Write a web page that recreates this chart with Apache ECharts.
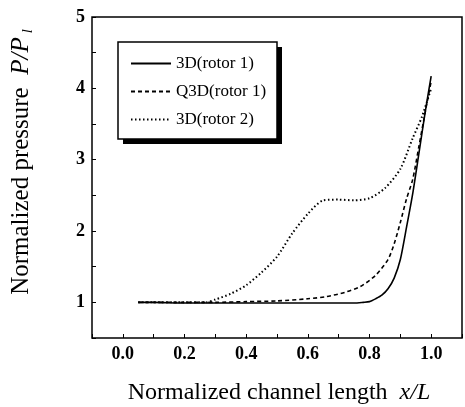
<!DOCTYPE html>
<html>
<head>
<meta charset="utf-8">
<script src="https://cdn.jsdelivr.net/npm/echarts@6/dist/echarts.min.js"></script>
<style>
  html, body { margin: 0; padding: 0; background: #fff; }
  #chart { width: 465px; height: 407px; }
</style>
</head>
<body>
<div id="chart"></div>
<script>
  // 3D (rotor 1) - solid
  var x3d1 = [0.05, 0.1, 0.2, 0.3, 0.4, 0.5, 0.6, 0.7, 0.75, 0.78, 0.8, 0.82, 0.84, 0.86, 0.88, 0.9, 0.92, 0.94, 0.96, 0.98, 1.0];
  var y3d1 = [1.0, 1.0, 0.99, 0.99, 0.99, 0.99, 0.99, 0.99, 0.99, 1.0, 1.01, 1.05, 1.1, 1.19, 1.34, 1.6, 2.05, 2.52, 3.08, 3.65, 4.17];
  // Q3D (rotor 1) - dashed
  var xq3d = [0.05, 0.1, 0.2, 0.3, 0.4, 0.5, 0.6, 0.66, 0.72, 0.77, 0.82, 0.86, 0.88, 0.9, 0.92, 0.94, 0.96, 0.98, 1.0];
  var yq3d = [1.0, 1.0, 1.0, 1.0, 1.01, 1.02, 1.05, 1.08, 1.14, 1.22, 1.38, 1.6, 1.82, 2.12, 2.45, 2.72, 3.18, 3.65, 4.1];
  // 3D (rotor 2) - dotted
  var x3d2 = [0.05, 0.1, 0.2, 0.27, 0.3, 0.35, 0.4, 0.45, 0.5, 0.55, 0.6, 0.65, 0.7, 0.75, 0.8, 0.85, 0.9, 0.94, 0.97, 1.0];
  var y3d2 = [1.0, 1.0, 1.0, 1.0, 1.04, 1.12, 1.24, 1.42, 1.64, 1.97, 2.24, 2.43, 2.44, 2.43, 2.46, 2.6, 2.87, 3.3, 3.6, 4.0];

  var names = ['3D(rotor 1)', 'Q3D(rotor 1)', '3D(rotor 2)'];

  function pairs(xs, ys) {
    var out = [];
    for (var i = 0; i < xs.length; i++) out.push([xs[i], ys[i]]);
    return out;
  }

  var serif = 'Liberation Serif, Times New Roman, serif';
  var myChart = echarts.init(document.getElementById('chart'));

  var option = {
    backgroundColor: '#fff',
    animation: false,
    grid: {
      left: 92, right: 1, top: 17, bottom: 69,
      show: true, borderColor: '#000', borderWidth: 1.5
    },
    legend: {
      orient: 'vertical',
      left: 118, top: 43,
      z: 10,
      padding: [12, 12, 12, 12],
      itemGap: 11,
      itemWidth: 40, itemHeight: 14,
      itemStyle: { opacity: 0 },
      textStyle: { fontFamily: serif, fontSize: 17, color: '#000' },
      data: names
    },
    xAxis: {
      type: 'value',
      min: -0.1, max: 1.1, interval: 0.1,
      axisLine: { show: false, onZero: false },
      axisTick: { inside: true, length: 4, lineStyle: { color: '#000', width: 1 } },
      splitLine: { show: false },
      axisLabel: {
        margin: 7,
        fontFamily: serif, fontSize: 18, fontWeight: 'bold', color: '#000',
        formatter: function (v) {
          var k = Math.round(v * 10);
          if (k < 0 || k % 2 !== 0) return '';
          return (k / 10).toFixed(1);
        }
      }
    },
    yAxis: {
      type: 'value',
      min: 0.5, max: 5, interval: 0.5,
      axisLine: { show: false, onZero: false },
      axisTick: { inside: true, length: 4, lineStyle: { color: '#000', width: 1 } },
      splitLine: { show: false },
      axisLabel: {
        margin: 7,
        fontFamily: serif, fontSize: 18, fontWeight: 'bold', color: '#000',
        formatter: function (v) {
          return Math.abs(v - Math.round(v)) < 1e-6 ? String(Math.round(v)) : '';
        }
      }
    },
    graphic: [
      // legend box shadow and frame
      {
        type: 'rect', z: 5,
        shape: { x: 123, y: 47, width: 159, height: 97 },
        style: { fill: '#000' }
      },
      {
        type: 'rect', z: 6,
        shape: { x: 118, y: 42, width: 159, height: 97 },
        style: { fill: '#fff', stroke: '#000', lineWidth: 1.5 }
      },
      {
        type: 'text',
        x: 279, y: 393,
        style: {
          text: 'Normalized channel length  {i|x/L}',
          fontFamily: serif, fontSize: 24, fill: '#000',
          align: 'center', verticalAlign: 'middle',
          rich: { i: { fontFamily: serif, fontSize: 24, fontStyle: 'italic' } }
        }
      },
      {
        type: 'text',
        x: 21, y: 162,
        rotation: Math.PI / 2,
        style: {
          text: 'Normalized pressure  {i|P/P}{s|l}',
          fontFamily: serif, fontSize: 25, fill: '#000',
          align: 'center', verticalAlign: 'middle',
          rich: {
            i: { fontFamily: serif, fontSize: 25, fontStyle: 'italic' },
            s: { fontFamily: serif, fontSize: 15, fontStyle: 'italic', padding: [14, 0, 0, 4] }
          }
        }
      }
    ],
    series: [
      {
        name: names[0], type: 'line', showSymbol: false, symbol: 'none', smooth: 0.25,
        lineStyle: { color: '#000', width: 1.6, type: 'solid' },
        itemStyle: { color: '#000' },
        data: pairs(x3d1, y3d1)
      },
      {
        name: names[1], type: 'line', showSymbol: false, symbol: 'none', smooth: 0.25,
        lineStyle: { color: '#000', width: 1.6, type: [4, 3] },
        itemStyle: { color: '#000' },
        data: pairs(xq3d, yq3d)
      },
      {
        name: names[2], type: 'line', showSymbol: false, symbol: 'none', smooth: 0.25,
        lineStyle: { color: '#000', width: 2, type: [1.5, 2.5] },
        itemStyle: { color: '#000' },
        data: pairs(x3d2, y3d2)
      }
    ]
  };

  myChart.setOption(option);
</script>
</body>
</html>
